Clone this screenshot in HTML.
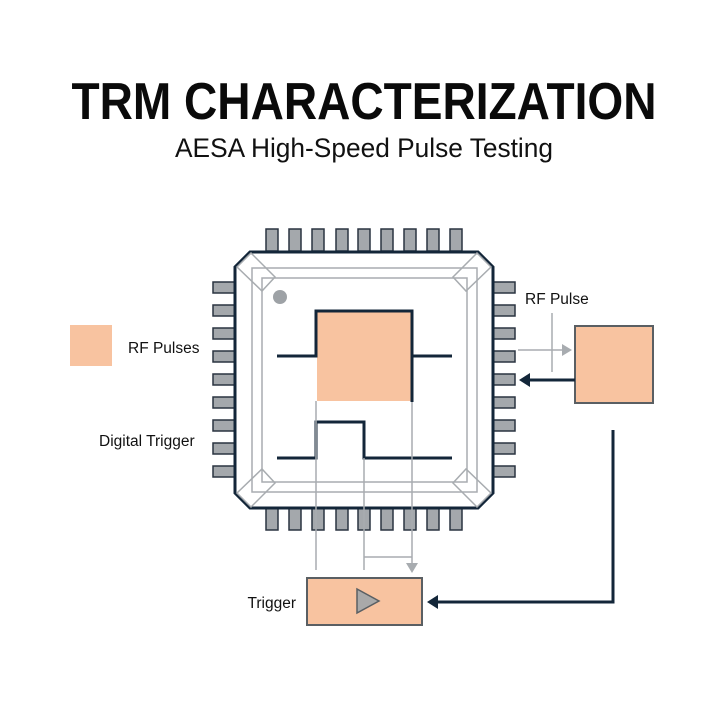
<!DOCTYPE html>
<html><head><meta charset="utf-8"><style>
html,body{margin:0;padding:0;background:#fff;}
svg{display:block;}
text{font-family:"Liberation Sans",sans-serif;}
</style></head><body>
<svg width="728" height="728" viewBox="0 0 728 728" xmlns="http://www.w3.org/2000/svg">
<rect width="728" height="728" fill="#fff"/>
<text x="364" y="119" text-anchor="middle" font-size="52" font-weight="bold" fill="#0a0a0a" textLength="585" lengthAdjust="spacingAndGlyphs">TRM CHARACTERIZATION</text>
<text x="364" y="157" text-anchor="middle" font-size="27" fill="#111" textLength="378" lengthAdjust="spacingAndGlyphs">AESA High-Speed Pulse Testing</text>

<g fill="#a4a8ac" stroke="#2a3440" stroke-width="1.5">
<rect x="266" y="229" width="12" height="22"/><rect x="289" y="229" width="12" height="22"/><rect x="312" y="229" width="12" height="22"/><rect x="336" y="229" width="12" height="22"/><rect x="358" y="229" width="12" height="22"/><rect x="381" y="229" width="12" height="22"/><rect x="404" y="229" width="12" height="22"/><rect x="427" y="229" width="12" height="22"/><rect x="450" y="229" width="12" height="22"/>
<rect x="266" y="508" width="12" height="22"/><rect x="289" y="508" width="12" height="22"/><rect x="312" y="508" width="12" height="22"/><rect x="336" y="508" width="12" height="22"/><rect x="358" y="508" width="12" height="22"/><rect x="381" y="508" width="12" height="22"/><rect x="404" y="508" width="12" height="22"/><rect x="427" y="508" width="12" height="22"/><rect x="450" y="508" width="12" height="22"/>
<rect x="213" y="282" width="22" height="11"/><rect x="213" y="305" width="22" height="11"/><rect x="213" y="328" width="22" height="11"/><rect x="213" y="351" width="22" height="11"/><rect x="213" y="374" width="22" height="11"/><rect x="213" y="397" width="22" height="11"/><rect x="213" y="420" width="22" height="11"/><rect x="213" y="443" width="22" height="11"/><rect x="213" y="466" width="22" height="11"/>
<rect x="493" y="282" width="22" height="11"/><rect x="493" y="305" width="22" height="11"/><rect x="493" y="328" width="22" height="11"/><rect x="493" y="351" width="22" height="11"/><rect x="493" y="374" width="22" height="11"/><rect x="493" y="397" width="22" height="11"/><rect x="493" y="420" width="22" height="11"/><rect x="493" y="443" width="22" height="11"/><rect x="493" y="466" width="22" height="11"/>
</g>

<polygon points="250,252 478,252 493,267 493,493 478,508 250,508 235,493 235,267" fill="#fff" stroke="#132639" stroke-width="3"/>
<g fill="none" stroke="#a8acb0" stroke-width="1.5">
<rect x="252" y="268" width="225" height="224"/>
<rect x="262" y="278" width="205" height="204"/>
<polygon points="251,253 275,277 262,291 237,267"/>
<polygon points="477,253 453,277 466,291 491,267"/>
<polygon points="251,507 275,483 262,469 237,493"/>
<polygon points="477,507 453,483 466,469 491,493"/>
</g>
<circle cx="280" cy="297" r="7" fill="#9ea2a6"/>

<rect x="317" y="312" width="95" height="89" fill="#f8c3a0"/>
<polyline points="277,356 316,356 316,311 412,311 412,402" fill="none" stroke="#132639" stroke-width="3"/>
<line x1="412" y1="356" x2="452" y2="356" stroke="#132639" stroke-width="3"/>
<polyline points="277,458 316,458 316,422 364,422 364,458 452,458" fill="none" stroke="#132639" stroke-width="3"/>

<g stroke="#a8acb0" stroke-width="1.5" fill="none">
<line x1="316" y1="401" x2="316" y2="570"/>
<line x1="364" y1="458" x2="364" y2="570"/>
<line x1="412" y1="402" x2="412" y2="566"/>
<line x1="364" y1="557" x2="412" y2="557"/>
<line x1="518" y1="350" x2="563" y2="350"/>
<line x1="552" y1="313" x2="552" y2="372"/>
</g>
<polygon points="406,563 418,563 412,573" fill="#a8acb0"/>
<polygon points="562,344 572,350 562,356" fill="#a8acb0"/>

<rect x="575" y="326" width="78" height="77" fill="#f8c3a0" stroke="#5a5f63" stroke-width="2"/>
<line x1="575" y1="380" x2="528" y2="380" stroke="#132639" stroke-width="3"/>
<polygon points="519,380 530,373 530,387" fill="#132639"/>
<polyline points="613,430 613,602 436,602" fill="none" stroke="#132639" stroke-width="3"/>
<polygon points="427,602 438,595 438,609" fill="#132639"/>

<rect x="307" y="578" width="115" height="47" fill="#f8c3a0" stroke="#5a5f63" stroke-width="2"/>
<polygon points="357,589 357,613 379,601" fill="#a9a9a9" stroke="#5a5f63" stroke-width="1.5"/>

<rect x="70" y="325" width="42" height="41" fill="#f8c3a0"/>
<text x="128" y="353" font-size="15.5" fill="#111">RF Pulses</text>
<text x="99" y="446" font-size="15.5" fill="#111">Digital Trigger</text>
<text x="296" y="608" font-size="15.5" fill="#111" text-anchor="end">Trigger</text>
<text x="525" y="304" font-size="15.5" fill="#111">RF Pulse</text>
</svg>
</body></html>
